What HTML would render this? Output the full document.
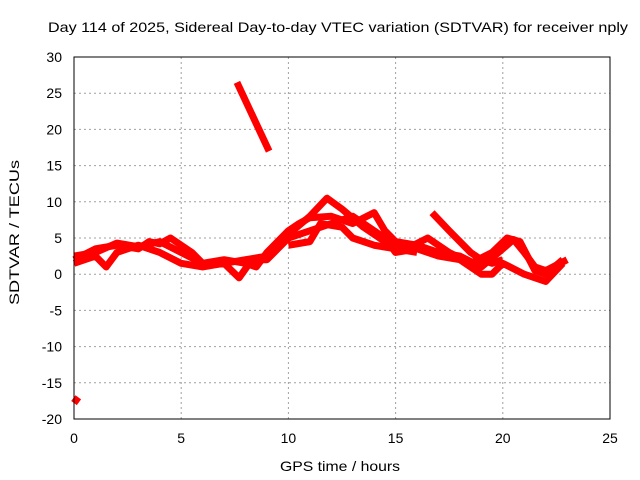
<!DOCTYPE html>
<html><head><meta charset="utf-8"><style>
body{margin:0;background:#fff}
svg{display:block;font-family:"Liberation Sans",sans-serif}
</style></head><body>
<svg id="c" width="640" height="480">
<text x="48" y="32" font-size="14" textLength="580" lengthAdjust="spacingAndGlyphs">Day 114 of 2025, Sidereal Day-to-day VTEC variation (SDTVAR) for receiver nply</text>
<text x="280" y="471" font-size="14" textLength="120" lengthAdjust="spacingAndGlyphs">GPS time / hours</text>
<text transform="translate(19,305) rotate(-90)" font-size="14" textLength="145" lengthAdjust="spacingAndGlyphs">SDTVAR / TECUs</text>
<g id="grid"></g><g id="ticks"></g><g id="marks"></g>
<rect x="74" y="57" width="536" height="362" fill="none" stroke="#000" stroke-width="1"/>
</svg>
<script>
const xTicks=[0,5,10,15,20,25];
const yTicks=[30,25,20,15,10,5,0,-5,-10,-15,-20];
const s1Hours=[0,1,2,3,4,5,6,7,8,9,10,11,11.8,12.5,13.5,14.5,15.5,16.5,17.5,18.5,19.5,20.2,20.8,21.5,22,22.8];
const s1Vals=[2.5,3,4.3,3.8,4.5,3,1.5,1.5,2,2.5,5.5,8,10.5,9,6.5,4.5,3.5,5,3,1.5,3,5,4.5,0.5,0,2];
const s2Hours=[0,1,1.5,2,3,4,5,6,7,7.7,8.3,9,10,11,12,13,14,14.5,15,16,17,18,19,19.5,20,21,22,22.8];
const s2Vals=[1.5,2.5,1,3,4,3,1.5,1,1.5,-0.5,2,2,5,6,7,8,6,5,3,3.5,2.5,2,0,0,1.5,0,-1,1.5];
const s3Hours=[0,1,2,3,3.5,4,4.5,5.5,6,7,8,8.5,9,10,10.5,11,12,13,14,14.5,15,16,17,18,19,20,20.5,21,21.5,22,23];
const s3Vals=[2,3.5,4,3.5,4.5,4.2,5,3,1.5,2,1.5,1,3,6,7,7.8,8,7,8.5,6,4.5,4,3,2.5,1,3.5,4.8,3,1,0.5,2];
const s4Hours=[16.7,17.5,18.5,19,19.5,20];
const s4Vals=[8.5,6,3,2,1.5,2];
const s5Hours=[10,11,11.5,12.5,13,14,15,16];
const s5Vals=[4,4.5,7,6.5,5,4,3.5,3];
const s6Hours=[7.6,9.1];
const s6Vals=[26.5,17];
const s7Hours=[0,0.2];
const s7Vals=[-17.8,-17];
const X=h=>74+h*536/25, Y=v=>57+(30-v)*362/50;
const NS="http://www.w3.org/2000/svg";
function mk(p,t,a){const e=document.createElementNS(NS,t);for(const k in a)e.setAttribute(k,a[k]);document.getElementById(p).appendChild(e);return e;}
xTicks.forEach(t=>{
 if(t>0&&t<25){const g=mk('grid','line',{x1:X(t),x2:X(t),y1:57,y2:419,stroke:'#a0a0a0','stroke-dasharray':'2,3'});
 
 }
 const l=mk('ticks','text',{x:X(t),y:443,'font-size':14,'text-anchor':'middle'});l.textContent=t;
 
 
});
yTicks.forEach(t=>{
 if(t<30&&t>-20){const g=mk('grid','line',{x1:74,x2:610,y1:Y(t),y2:Y(t),stroke:'#a0a0a0','stroke-dasharray':'2,3'});
 
 }
 const l=mk('ticks','text',{x:62,y:Y(t)+5,'font-size':14,'text-anchor':'end'});l.textContent=t;
 
 
});
[[s1Hours,s1Vals],[s2Hours,s2Vals],[s3Hours,s3Vals],[s4Hours,s4Vals],[s5Hours,s5Vals],[s6Hours,s6Vals],[s7Hours,s7Vals]].forEach((s,i)=>{
 const pts=s[0].map((h,j)=>X(h)+','+Y(s[1][j])).join(' ');
 const p=mk('marks','polyline',{points:pts,fill:'none',stroke:'#ff0000','stroke-width':7,'stroke-linejoin':'round'});
 
 
});
</script>
</body></html>
